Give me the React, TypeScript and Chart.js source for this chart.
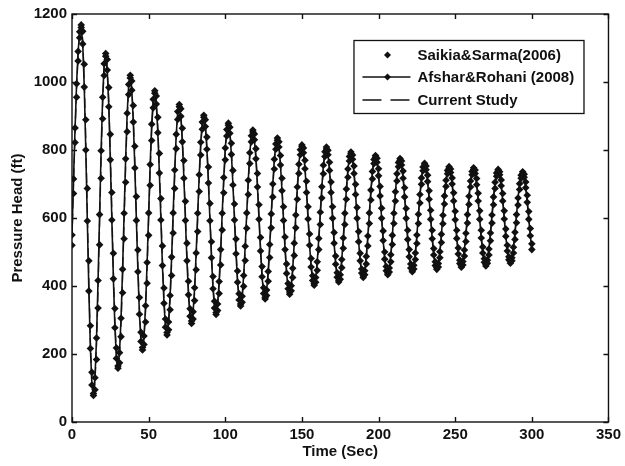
import React, { useEffect, useRef } from 'react';
import { Chart, registerables } from 'chart.js';

Chart.register(...registerables);

// Sampling grid (seconds), one sample per second from 0 to 300 s
const timeSec: number[] = Array.from({ length: 301 }, (_, i) => i);

// Current Study (ft)
const currentStudy: number[] = [
  540, 700, 850, 980, 1080, 1140, 1165,
  1124, 1007, 830, 623, 415, 238, 121, 80,
  118, 226, 389, 580, 771, 934, 1042, 1080,
  1045, 946, 796, 621, 446, 296, 197, 162,
  194, 287, 426, 589, 751, 890, 983, 1015,
  985, 898, 768, 616, 463, 333, 246, 216,
  245, 326, 449, 593, 737, 860, 941, 970,
  943, 866, 751, 615, 479, 364, 287, 260,
  286, 358, 467, 595, 723, 832, 905, 930,
  906, 837, 734, 612, 491, 387, 318, 294,
  317, 382, 481, 596, 711, 810, 875, 898,
  876, 814, 719, 609, 499, 404, 342, 320,
  341, 401, 492, 598, 704, 794, 854, 875,
  855, 798, 711, 610, 509, 422, 365, 345,
  364, 420, 503, 600, 697, 781, 836, 855,
  836, 784, 704, 610, 516, 437, 384, 365,
  383, 433, 509, 598, 687, 763, 813, 831,
  814, 765, 692, 606, 519, 446, 397, 380,
  396, 443, 514, 596, 679, 749, 796, 812,
  797, 753, 686, 609, 531, 464, 421, 405,
  420, 463, 529, 605, 681, 747, 790, 805,
  790, 748, 685, 610, 536, 472, 430, 415,
  429, 470, 531, 603, 675, 736, 777, 791,
  777, 738, 679, 610, 540, 481, 442, 428,
  441, 480, 537, 605, 672, 730, 768, 781,
  768, 731, 674, 609, 543, 486, 449, 436,
  449, 485, 540, 604, 668, 723, 759, 772,
  760, 724, 671, 609, 546, 493, 457, 445,
  457, 491, 542, 602, 661, 712, 746, 758,
  746, 713, 663, 605, 547, 497, 464, 452,
  463, 495, 544, 600, 657, 705, 737, 748,
  737, 706, 658, 603, 548, 500, 469, 458,
  469, 500, 547, 602, 656, 703, 734, 745,
  734, 704, 658, 604, 549, 503, 473, 462,
  473, 503, 548, 601, 654, 699, 729, 740,
  730, 701, 657, 605, 553, 509, 480, 470,
  480, 508, 551, 602, 652, 695, 723, 733,
  723, 695, 653, 604, 555, 505,
];

// Saikia & Sarma (2006) (ft)
const saikiaSarma2006: number[] = [
  520, 672, 822, 955, 1062, 1130, 1168,
  1149, 1052, 889, 687, 474, 283, 146, 78,
  95, 184, 335, 521, 717, 892, 1019, 1084,
  1066, 984, 846, 675, 496, 334, 218, 158,
  174, 251, 380, 539, 705, 854, 963, 1020,
  1003, 931, 811, 663, 506, 366, 264, 212,
  228, 294, 408, 549, 696, 828, 924, 974,
  959, 896, 790, 657, 518, 394, 303, 256,
  271, 330, 431, 556, 687, 804, 890, 934,
  921, 864, 769, 649, 526, 414, 333, 290,
  303, 357, 448, 560, 678, 785, 861, 902,
  889, 838, 750, 643, 530, 428, 355, 316,
  328, 378, 462, 565, 674, 771, 841, 879,
  867, 820, 740, 641, 538, 444, 377, 341,
  352, 399, 475, 570, 669, 760, 824, 859,
  847, 804, 731, 639, 543, 457, 395, 362,
  372, 414, 484, 571, 662, 744, 802, 835,
  824, 784, 717, 633, 544, 465, 407, 376,
  386, 425, 490, 571, 655, 731, 786, 815,
  806, 770, 708, 633, 553, 481, 430, 402,
  411, 446, 507, 581, 659, 730, 781, 809,
  799, 764, 706, 633, 557, 488, 439, 412,
  420, 454, 511, 581, 655, 720, 768, 794,
  785, 753, 699, 631, 560, 496, 450, 425,
  433, 465, 518, 584, 653, 715, 760, 784,
  776, 745, 693, 629, 562, 500, 457, 433,
  441, 471, 522, 584, 650, 709, 751, 775,
  768, 738, 689, 628, 564, 507, 465, 442,
  450, 478, 525, 584, 644, 699, 739, 761,
  753, 726, 680, 623, 564, 510, 471, 449,
  456, 483, 528, 583, 641, 693, 730, 751,
  744, 718, 674, 620, 564, 512, 476, 455,
  462, 488, 531, 585, 640, 691, 727, 748,
  741, 716, 673, 621, 564, 515, 480, 459,
  467, 491, 533, 585, 639, 687, 723, 743,
  736, 712, 672, 621, 568, 520, 486, 467,
  474, 497, 537, 586, 638, 684, 717, 736,
  729, 706, 667, 619, 569, 524,
];

// Afshar & Rohani (2008) (ft)
const afsharRohani2008: number[] = [
  550, 715, 865, 995, 1090, 1148, 1160,
  1112, 985, 800, 591, 385, 216, 109, 84,
  130, 247, 416, 610, 798, 955, 1054, 1076,
  1035, 927, 771, 594, 421, 277, 187, 165,
  204, 305, 449, 614, 774, 908, 993, 1012,
  976, 882, 747, 593, 442, 317, 237, 219,
  253, 342, 469, 615, 757, 876, 949, 967,
  935, 851, 732, 594, 460, 349, 279, 263,
  294, 372, 485, 615, 741, 846, 913, 927,
  899, 824, 717, 593, 474, 374, 311, 297,
  324, 395, 497, 614, 727, 823, 882, 896,
  869, 802, 703, 592, 483, 392, 335, 322,
  347, 413, 507, 614, 719, 806, 860, 873,
  849, 787, 697, 594, 495, 411, 359, 347,
  370, 431, 517, 615, 711, 792, 842, 853,
  830, 774, 691, 596, 503, 427, 378, 367,
  388, 443, 522, 612, 700, 773, 818, 829,
  809, 756, 680, 593, 507, 437, 392, 382,
  401, 452, 526, 609, 691, 758, 801, 810,
  792, 745, 675, 597, 520, 456, 416, 407,
  425, 471, 540, 617, 692, 755, 795, 803,
  786, 740, 675, 599, 526, 464, 426, 417,
  433, 478, 541, 614, 685, 744, 781, 789,
  773, 731, 669, 599, 530, 474, 438, 430,
  445, 487, 547, 615, 682, 737, 772, 779,
  764, 724, 665, 599, 534, 479, 445, 438,
  453, 492, 549, 614, 677, 730, 763, 770,
  756, 717, 662, 599, 537, 486, 453, 447,
  461, 497, 550, 611, 669, 718, 750, 756,
  742, 707, 655, 596, 539, 491, 460, 454,
  466, 501, 552, 608, 665, 711, 740, 746,
  734, 700, 650, 595, 540, 494, 466, 460,
  472, 506, 555, 610, 664, 709, 737, 743,
  731, 698, 650, 596, 541, 497, 470, 464,
  476, 509, 556, 609, 662, 705, 732, 738,
  727, 695, 650, 597, 546, 503, 477, 472,
  483, 514, 558, 610, 659, 701, 726, 731,
  720, 689, 646, 596, 548, 507,
];

const seriesNames: string[] = ['Saikia&Sarma(2006)', 'Afshar&Rohani (2008)', 'Current Study'];
const xAxisTitle = 'Time (Sec)';
const yAxisTitle = 'Pressure Head (ft)';

const FONT = "'Liberation Sans', Arial, Helvetica, sans-serif";
const INK = '#111111';

const toPoints = (vals: number[]) => vals.map((v, i) => ({ x: timeSec[i], y: v }));

const frameLegendPlugin = {
  id: 'frameLegend',
  afterDatasetsDraw(chart: any) {
    const { ctx, chartArea: a, scales } = chart;
    const xs = scales.x;
    const ys = scales.y;
    ctx.save();
    ctx.setLineDash([]);
    ctx.strokeStyle = INK;
    ctx.lineWidth = 1.4;
    ctx.strokeRect(a.left, a.top, a.right - a.left, a.bottom - a.top);
    const L = 5;
    ctx.beginPath();
    xs.ticks.forEach((t: any) => {
      const px = Math.round(xs.getPixelForValue(t.value)) + 0.5;
      ctx.moveTo(px, a.bottom);
      ctx.lineTo(px, a.bottom - L);
      ctx.moveTo(px, a.top);
      ctx.lineTo(px, a.top + L);
    });
    ys.ticks.forEach((t: any) => {
      const py = Math.round(ys.getPixelForValue(t.value)) + 0.5;
      ctx.moveTo(a.left, py);
      ctx.lineTo(a.left + L, py);
      ctx.moveTo(a.right, py);
      ctx.lineTo(a.right - L, py);
    });
    ctx.stroke();

    // legend box
    const bw = 230;
    const bh = 73;
    const bx = a.right - 25 - bw;
    const by = a.top + 26;
    ctx.fillStyle = '#ffffff';
    ctx.fillRect(bx, by, bw, bh);
    ctx.lineWidth = 1.3;
    ctx.strokeStyle = INK;
    ctx.strokeRect(bx + 0.5, by + 0.5, bw, bh);

    const rows = [by + 15, by + 37, by + 60];
    const s0 = bx + 9;
    const s1 = bx + 57;
    const mx = bx + 34;
    const diamond = (x: number, y: number, r: number) => {
      ctx.beginPath();
      ctx.moveTo(x, y - r);
      ctx.lineTo(x + r, y);
      ctx.lineTo(x, y + r);
      ctx.lineTo(x - r, y);
      ctx.closePath();
      ctx.fillStyle = INK;
      ctx.fill();
    };
    diamond(mx, rows[0], 3.5);
    ctx.beginPath();
    ctx.lineWidth = 1.4;
    ctx.moveTo(s0, rows[1]);
    ctx.lineTo(s1, rows[1]);
    ctx.stroke();
    diamond(mx, rows[1], 3.5);
    ctx.beginPath();
    ctx.setLineDash([19, 9]);
    ctx.moveTo(s0, rows[2]);
    ctx.lineTo(s1, rows[2]);
    ctx.stroke();
    ctx.setLineDash([]);

    ctx.fillStyle = INK;
    ctx.font = `bold 15px ${FONT}`;
    ctx.textBaseline = 'middle';
    ctx.textAlign = 'left';
    seriesNames.forEach((name, i) => {
      ctx.fillText(name, bx + 64, rows[i] + 1);
    });
    ctx.restore();
  },
};

export default function App() {
  const canvasRef = useRef<HTMLCanvasElement | null>(null);

  useEffect(() => {
    document.body.style.margin = '0';
    const canvas = canvasRef.current;
    if (!canvas) return;
    const chart = new Chart(canvas, {
      type: 'line',
      data: {
        datasets: [
          {
            label: seriesNames[0],
            data: toPoints(saikiaSarma2006),
            showLine: false,
            pointStyle: 'rectRot',
            pointRadius: 3.8,
            pointBackgroundColor: INK,
            pointBorderColor: INK,
            pointBorderWidth: 0,
            borderColor: INK,
            order: 0,
          },
          {
            label: seriesNames[1],
            data: toPoints(afsharRohani2008),
            borderColor: INK,
            borderWidth: 1.6,
            pointStyle: 'rectRot',
            pointRadius: 3.8,
            pointBackgroundColor: INK,
            pointBorderColor: INK,
            pointBorderWidth: 0,
            tension: 0,
            order: 1,
          },
          {
            label: seriesNames[2],
            data: toPoints(currentStudy),
            borderColor: '#444444',
            borderWidth: 1.4,
            borderDash: [10, 5],
            pointRadius: 0,
            tension: 0,
            order: 2,
          },
        ],
      },
      options: {
        responsive: false,
        animation: false,
        events: [],
        layout: { padding: { top: 12, right: 14, bottom: 0, left: 0 } },
        plugins: {
          legend: { display: false },
          tooltip: { enabled: false },
        },
        scales: {
          x: {
            type: 'linear',
            min: 0,
            max: 350,
            afterFit: (s: any) => {
              s.height = 44;
            },
            ticks: {
              stepSize: 50,
              color: INK,
              padding: 4,
              maxRotation: 0,
              callback: (v: any) => String(v),
              font: { family: FONT, size: 15, weight: 'bold' },
            },
            grid: { display: false, drawTicks: false },
            border: { display: false },
            title: {
              display: true,
              text: xAxisTitle,
              color: INK,
              padding: { top: 0, bottom: 5 },
              font: { family: FONT, size: 15, weight: 'bold' },
            },
          },
          y: {
            type: 'linear',
            min: 0,
            max: 1200,
            afterFit: (s: any) => {
              s.width = 72;
            },
            ticks: {
              stepSize: 200,
              color: INK,
              padding: 5,
              callback: (v: any) => String(v),
              font: { family: FONT, size: 15, weight: 'bold' },
            },
            grid: { display: false, drawTicks: false },
            border: { display: false },
            title: {
              display: true,
              text: yAxisTitle,
              color: INK,
              padding: { top: 9, bottom: 0 },
              font: { family: FONT, size: 15, weight: 'bold' },
            },
          },
        },
      },
      plugins: [frameLegendPlugin],
    });
    return () => chart.destroy();
  }, []);

  return (
    <div style={{ width: 625, height: 466, background: '#fff' }}>
      <canvas ref={canvasRef} width={625} height={466} style={{ display: 'block' }} />
    </div>
  );
}
